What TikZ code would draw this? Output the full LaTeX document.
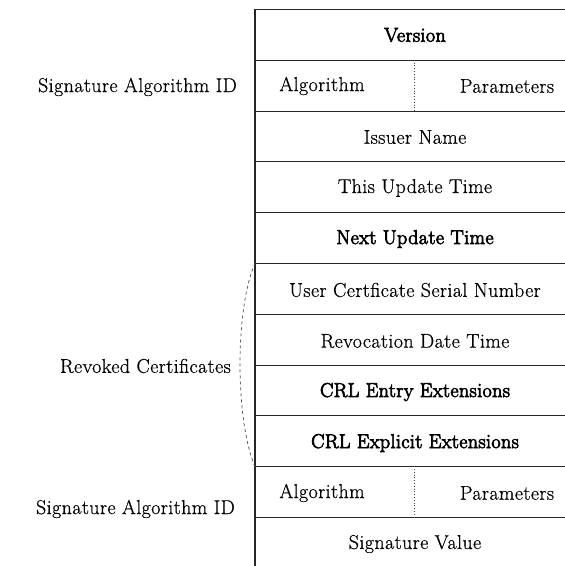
\documentclass[tikz,border=0pt]{standalone}
\usepackage{fontspec}
\setmainfont{Latin Modern Roman}[LetterSpace=2]
\begin{document}
\begin{tikzpicture}[x=1pt,y=-1pt,
  txt/.style={font=\fontsize{20}{22}\selectfont\addfontfeatures{FakeBold=0.6}, inner sep=0pt, text=black},
  boldtxt/.style={txt, font=\fontsize{20}{22}\selectfont\addfontfeatures{FakeBold=3.5}},
  rowbox/.style={draw=black!85, line width=0.8pt, minimum width=320pt,
    minimum height=50.8pt, inner sep=0pt, anchor=north west},
  divider/.style={draw=black!75, line width=0.8pt, dotted},
  bracket/.style={draw=black!70, line width=0.7pt, dash pattern=on 3pt off 3pt}]
\useasboundingbox (0,0) rectangle (565,566);
\clip (0,0) rectangle (565,566);

% rows of the CRL layout
\node[rowbox] (r1)  at (255,9)     {};
\node[rowbox] (r2)  at (255,59.8)  {};
\node[rowbox] (r3)  at (255,110.6) {};
\node[rowbox] (r4)  at (255,161.4) {};
\node[rowbox] (r5)  at (255,212.2) {};
\node[rowbox] (r6)  at (255,263)   {};
\node[rowbox] (r7)  at (255,313.8) {};
\node[rowbox] (r8)  at (255,364.6) {};
\node[rowbox] (r9)  at (255,415.4) {};
\node[rowbox] (r10) at (255,466.2) {};
\node[rowbox] (r11) at (255,517)   {};

% thicker left edge
\draw[line width=1.6pt, black!85] (r1.north west) -- (r11.south west);

% cell texts
\node[boldtxt] (version) at (415,35) {Version};
\node[txt] (alg1) at (322,86) {Algorithm};
\node[txt] (par1) at (507,86) {Parameters};
\coordinate (d1a) at (414,59.8);
\coordinate (d1b) at (414,110.6);
\draw[divider] (d1a) -- (d1b);
\node[txt] (issuer) at (415,137) {Issuer Name};
\node[txt] (thisup) at (415,188) {This Update Time};
\node[boldtxt] (nextup) at (415,239) {Next Update Time};
\node[txt] (serial) at (415,290) {User Certficate Serial Number};
\node[txt] (revdate) at (415,341) {Revocation Date Time};
\node[boldtxt] (entryext) at (415,392) {CRL Entry Extensions};
\node[boldtxt] (explext) at (415,443) {CRL Explicit Extensions};
\node[txt] (alg2) at (322,493) {Algorithm};
\node[txt] (par2) at (507,493) {Parameters};
\coordinate (d2a) at (414,466.2);
\coordinate (d2b) at (414,517);
\draw[divider] (d2a) -- (d2b);
\node[txt] (sigval) at (415,544) {Signature Value};

% labels on the left
\node[txt, anchor=east] (sigid1) at (237,87) {Signature Algorithm ID};
\node[txt, anchor=east] (revoked) at (231,366) {Revoked Certificates};
\node[txt, anchor=east] (sigid2) at (235,509) {Signature\ Algorithm\ ID};

% dashed bracket grouping the revoked-certificate rows
\draw[bracket] (r6.north west) .. controls +(-20,46) and +(-20,-48) .. (r9.south west);
\end{tikzpicture}
\end{document}
